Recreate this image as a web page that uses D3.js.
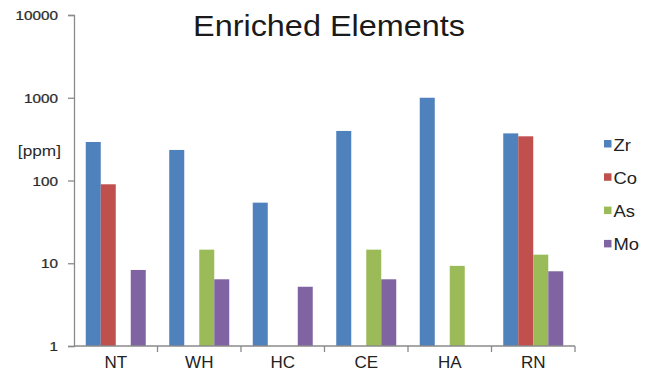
<!DOCTYPE html>
<html>
<head>
<meta charset="utf-8">
<script src="https://cdn.jsdelivr.net/npm/d3@7"></script>
<style>
  html, body { margin: 0; padding: 0; background: #fff; }
  svg { display: block; }
  text { font-family: "Liberation Sans", Arial, sans-serif; }
</style>
</head>
<body>
<svg id="chart" width="651" height="374"></svg>
<script>
// Sampling sites and the elements measured at each (ppm)
const sites = ["NT", "WH", "HC", "CE", "HA", "RN"];
const elements = ["Zr", "Co", "As", "Mo"];
const colors = ["#4F81BD", "#C0504D", "#9BBB59", "#8064A2"];

// Concentrations per element, one value per site (null = not enriched)
const zr = [292, 234, 54, 397, 1000, 371];
const co = [90, null, null, null, null, 342];
const as = [null, 14.6, null, 14.6, 9.3, 12.7];
const mo = [8.3, 6.4, 5.2, 6.4, null, 8.0];

const yTicks = [1, 10, 100, 1000, 10000];
const titleText = "Enriched Elements";
const unitText = "[ppm]";

const series = [zr, co, as, mo];

const svg = d3.select("#chart");
const plot = { left: 74, right: 575, top: 15, bottom: 346 };

const x0 = d3.scaleBand().domain(sites).range([plot.left, plot.right]).paddingInner(0).paddingOuter(0);
const x1 = d3.scaleBand().domain(elements).range([11.75, x0.bandwidth() - 11.75]).padding(0);
const y = d3.scaleLog().domain([1, 10000]).range([plot.bottom, plot.top]);
const color = d3.scaleOrdinal().domain(elements).range(colors);

// Title
svg.append("text")
  .attr("transform", "translate(329,36) scale(1.08,1)")
  .attr("text-anchor", "middle")
  .attr("font-size", 30)
  .attr("fill", "#1a1a1a")
  .text(titleText);

// Bars
const rows = [];
sites.forEach((s, i) => {
  elements.forEach((e, j) => {
    const v = series[j][i];
    if (v != null) rows.push({ site: s, el: e, v });
  });
});

svg.append("g")
  .selectAll("rect")
  .data(rows)
  .join("rect")
  .attr("x", d => x0(d.site) + x1(d.el))
  .attr("y", d => y(d.v))
  .attr("width", x1.bandwidth())
  .attr("height", d => y(1) - y(d.v))
  .attr("fill", d => color(d.el));

const axisColor = "#8a8a8a";

// Y axis (log)
const yAxis = svg.append("g")
  .attr("transform", `translate(${plot.left},0)`)
  .call(d3.axisLeft(y).tickValues(yTicks).tickFormat(d3.format("d")).tickSize(6).tickPadding(0));
yAxis.select(".domain").attr("stroke", axisColor).attr("stroke-width", 1.3);
yAxis.selectAll(".tick line").attr("stroke", axisColor).attr("stroke-width", 1.3);
yAxis.selectAll(".tick text")
  .attr("x", null).attr("dy", null)
  .attr("text-anchor", "end")
  .attr("font-size", 12.5)
  .attr("fill", "#2a2a2a")
  .attr("stroke", "#2a2a2a")
  .attr("stroke-width", 0.25)
  .attr("transform", "translate(-16,4.5) scale(1.22,1)");

// Unit label
svg.append("text")
  .attr("transform", "translate(61,156) scale(1.15,1)")
  .attr("text-anchor", "end")
  .attr("font-size", 15)
  .attr("fill", "#2a2a2a")
  .text(unitText);

// X axis with ticks at category boundaries
const xAxisG = svg.append("g");
xAxisG.append("line")
  .attr("x1", plot.left).attr("x2", plot.right)
  .attr("y1", plot.bottom).attr("y2", plot.bottom)
  .attr("stroke", axisColor).attr("stroke-width", 1.3);
const bounds = sites.map(s => x0(s)).concat([x0(sites[sites.length - 1]) + x0.bandwidth()]);
xAxisG.selectAll(".bt")
  .data(bounds.slice(1))
  .join("line")
  .attr("x1", d => d).attr("x2", d => d)
  .attr("y1", plot.bottom).attr("y2", plot.bottom + 6)
  .attr("stroke", axisColor).attr("stroke-width", 1.3);
xAxisG.selectAll(".cl")
  .data(sites)
  .join("text")
  .attr("transform", d => `translate(${x0(d) + x0.bandwidth() / 2},368)`)
  .attr("text-anchor", "middle")
  .attr("font-size", 17)
  .attr("fill", "#222")
  .text(d => d);

// Legend
const legend = svg.append("g")
  .selectAll("g")
  .data(elements)
  .join("g")
  .attr("transform", (d, i) => `translate(604,${140 + i * 33.3})`);
legend.append("rect")
  .attr("width", 7.5).attr("height", 7.5)
  .attr("fill", d => color(d));
legend.append("text")
  .attr("transform", "translate(9.5,10.5) scale(1.15,1)")
  .attr("font-size", 16)
  .attr("fill", "#222")
  .text(d => d);
</script>
</body>
</html>
